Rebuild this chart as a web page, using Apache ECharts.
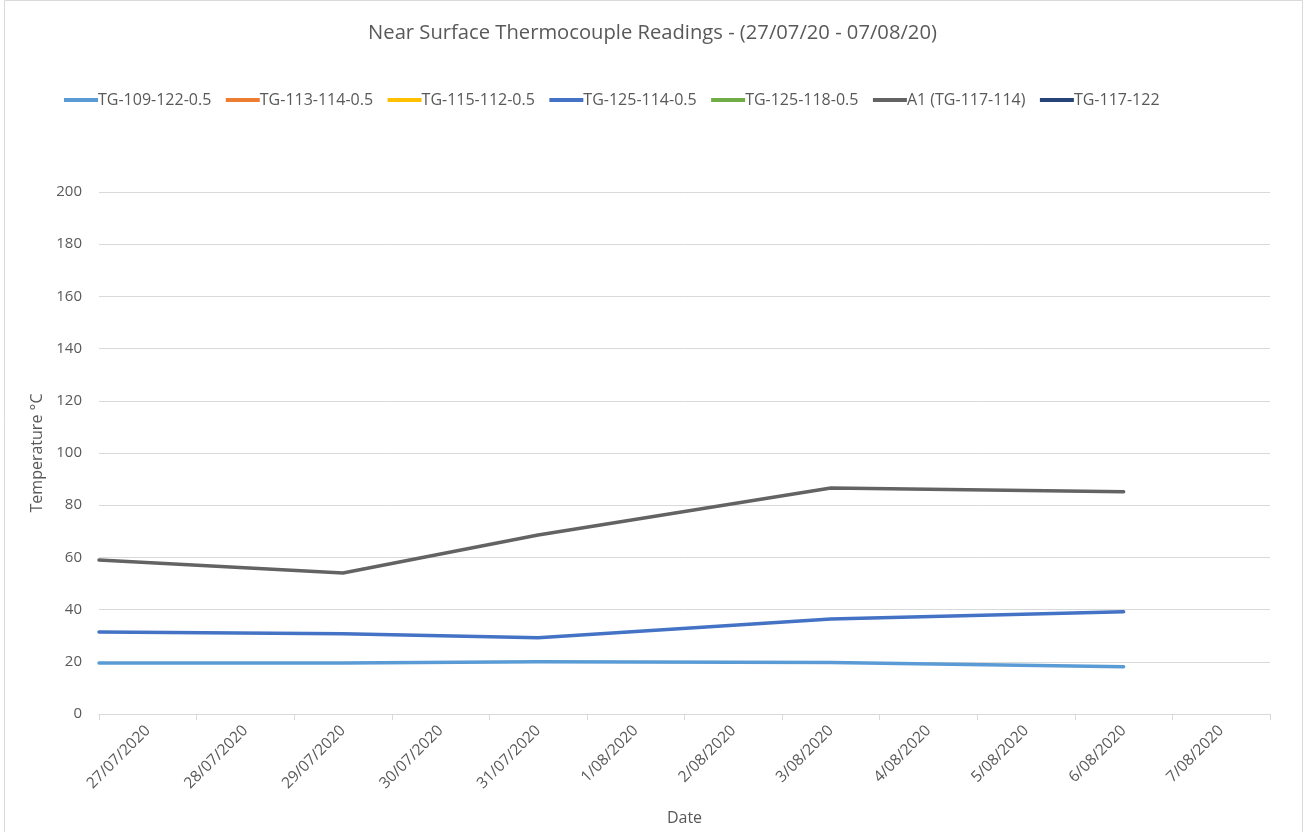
<!DOCTYPE html>
<html>
<head>
<meta charset="utf-8">
<script src="https://cdn.jsdelivr.net/npm/echarts@6/dist/echarts.min.js"></script>
<style>html,body{margin:0;padding:0;background:#fff}#c{width:1305px;height:832px}</style>
</head>
<body>
<div id="c"></div>
<script>
// Category labels (days)
const categories = ['27/07/2020','28/07/2020','29/07/2020','30/07/2020','31/07/2020','1/08/2020','2/08/2020','3/08/2020','4/08/2020','5/08/2020','6/08/2020','7/08/2020'];
// Reading positions in days after 27/07/2020 00:00
const readingDays = [0, 2.5, 4.5, 7.5, 10.5];
const seriesNames = ['TG-109-122-0.5','TG-113-114-0.5','TG-115-112-0.5','TG-125-114-0.5','TG-125-118-0.5','A1 (TG-117-114)','TG-117-122'];
const colors = ['#5B9BD5','#ED7D31','#FFC000','#4472C4','#70AD47','#636363','#264478'];
const tg109 = [19.5, 19.5, 20.0, 19.7, 18.1];
const tg113 = [];
const tg115 = [];
const tg125_114 = [31.4, 30.7, 29.2, 36.4, 39.2];
const tg125_118 = [];
const a1 = [59.0, 54.0, 68.6, 86.6, 85.2];
const tg117_122 = [];
const yTicks = {min: 0, max: 200, interval: 20};

const valuesList = [tg109, tg113, tg115, tg125_114, tg125_118, a1, tg117_122];
const font = 'Open Sans';
const chart = echarts.init(document.getElementById('c'));
chart.setOption({
  animation: false,
  color: colors,
  textStyle: {fontFamily: font},
  title: {
    text: 'Near Surface Thermocouple Readings - (27/07/20 - 07/08/20)',
    left: 'center', top: 18,
    textStyle: {fontFamily: font, fontSize: 20.2, fontWeight: 'normal', color: '#595959'}
  },
  legend: {
    left: 59, top: 87,
    icon: 'rect', itemWidth: 34, itemHeight: 4, itemGap: 14.5,
    textStyle: {fontFamily: font, fontSize: 16, color: '#595959', padding: [0,0,0,-5]},
    data: seriesNames
  },
  grid: {left: 99, right: 35, top: 192, bottom: 118, containLabel: false},
  xAxis: [{
    type: 'category', data: categories, boundaryGap: true,
    name: 'Date', nameLocation: 'middle', nameGap: 96,
    nameTextStyle: {fontFamily: font, fontSize: 16, color: '#595959'},
    axisLine: {lineStyle: {color: '#D9D9D9', width: 1}},
    axisTick: {show: true, length: 6, lineStyle: {color: '#D9D9D9'}},
    axisLabel: {rotate: 45, fontFamily: font, fontSize: 15.5, color: '#595959', margin: 14, interval: 0}
  }, {
    type: 'value', min: 0, max: categories.length, show: false
  }],
  yAxis: {
    type: 'value', min: yTicks.min, max: yTicks.max, interval: yTicks.interval,
    name: 'Temperature °C', nameLocation: 'middle', nameGap: 47,
    nameTextStyle: {fontFamily: font, fontSize: 16, color: '#595959'},
    axisLine: {show: false}, axisTick: {show: false},
    axisLabel: {fontFamily: font, fontSize: 15, color: '#595959', margin: 17},
    splitLine: {lineStyle: {color: '#D9D9D9', width: 1}}
  },
  graphic: [{
    type: 'rect', shape: {x: 4.5, y: 0.5, width: 1298, height: 840},
    style: {fill: 'none', stroke: '#D9D9D9', lineWidth: 1}, silent: true
  }],
  series: seriesNames.map((n, i) => ({
    name: n, type: 'line', xAxisIndex: 1,
    data: valuesList[i].map((v, k) => [readingDays[k], v]),
    showSymbol: false, symbol: 'none',
    lineStyle: {width: 3.5, color: colors[i], cap: 'round', join: 'round'},
    itemStyle: {color: colors[i]}
  }))
});
</script>
</body>
</html>
